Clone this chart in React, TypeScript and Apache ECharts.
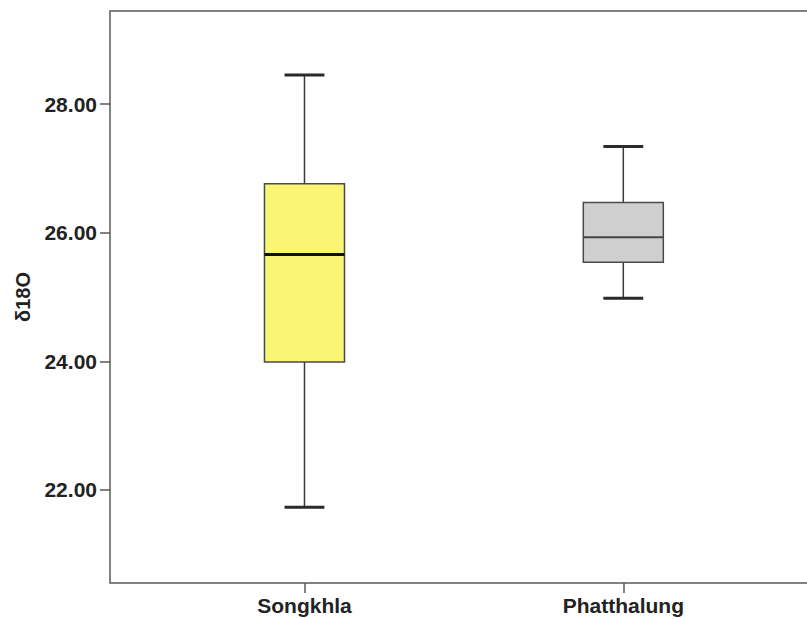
import React, { useEffect, useRef } from "react";
import * as echarts from "echarts";

const categories = ["Songkhla", "Phatthalung"];
const positions = [1, 2];
const lowWhisker = [21.73, 24.98];
const q1 = [23.99, 25.54];
const median = [25.66, 25.93];
const q3 = [26.76, 26.47];
const highWhisker = [28.45, 27.34];
const yTicks = [22, 24, 26, 28];
const yName = "δ18O";

const boxFills = ["#FAF574", "#CFCFCF"];
const medianStyles = [
  { stroke: "#111", lineWidth: 3 },
  { stroke: "#444", lineWidth: 2 },
];

const FONT = "'Liberation Sans', Arial, sans-serif";

export default function App() {
  const ref = useRef<HTMLDivElement>(null);
  useEffect(() => {
    if (!ref.current) return;
    const chart = echarts.init(ref.current, null, { renderer: "svg" });
    const data = positions.map((p, i) => [
      p,
      lowWhisker[i],
      q1[i],
      median[i],
      q3[i],
      highWhisker[i],
    ]);
    chart.setOption({
      animation: false,
      backgroundColor: "#ffffff",
      grid: {
        left: 110,
        top: 11,
        right: -6,
        bottom: 36,
        containLabel: false,
        outerBoundsMode: "none",
        show: true,
        borderColor: "#5a5a5a",
        borderWidth: 1.5,
        backgroundColor: "transparent",
      },
      xAxis: {
        type: "value",
        min: 0.39,
        max: 2.595,
        splitLine: { show: false },
        axisLine: { show: false },
        axisTick: {
          show: true,
          customValues: positions,
          length: 10,
          lineStyle: { color: "#5a5a5a", width: 1.5 },
        },
        axisLabel: {
          customValues: positions,
          formatter: (v: number) => categories[positions.indexOf(v)] ?? "",
          fontFamily: FONT,
          fontSize: 21,
          fontWeight: "bold",
          color: "#222",
          margin: 12,
        },
      },
      yAxis: {
        type: "value",
        min: 20.554,
        max: 29.446,
        name: yName,
        nameLocation: "middle",
        nameGap: 77,
        nameTextStyle: {
          fontFamily: FONT,
          fontSize: 20,
          fontWeight: "bold",
          color: "#222",
        },
        splitLine: { show: false },
        axisLine: { show: false },
        axisTick: {
          show: true,
          customValues: yTicks,
          length: 10,
          lineStyle: { color: "#5a5a5a", width: 1.5 },
        },
        axisLabel: {
          customValues: yTicks,
          formatter: (v: number) => v.toFixed(2),
          fontFamily: FONT,
          fontSize: 21,
          fontWeight: "bold",
          color: "#222",
          margin: 13,
        },
      },
      series: [
        {
          type: "custom",
          data,
          encode: { x: 0, y: [1, 2, 3, 4, 5] },
          renderItem: (params: any, api: any) => {
            const i = params.dataIndex;
            const x = api.value(0);
            const pLow = api.coord([x, api.value(1)]);
            const pQ1 = api.coord([x, api.value(2)]);
            const pMed = api.coord([x, api.value(3)]);
            const pQ3 = api.coord([x, api.value(4)]);
            const pHigh = api.coord([x, api.value(5)]);
            const cx = pMed[0];
            const hb = api.size([0.251, 0])[0] / 2;
            const hc = api.size([0.125, 0])[0] / 2;
            const whisker = { stroke: "#3a3a3a", lineWidth: 1.5 };
            const cap = { stroke: "#2a2a2a", lineWidth: 3 };
            return {
              type: "group",
              children: [
                {
                  type: "line",
                  shape: { x1: cx, y1: pHigh[1], x2: cx, y2: pQ3[1] },
                  style: whisker,
                },
                {
                  type: "line",
                  shape: { x1: cx, y1: pQ1[1], x2: cx, y2: pLow[1] },
                  style: whisker,
                },
                {
                  type: "line",
                  shape: { x1: cx - hc, y1: pHigh[1], x2: cx + hc, y2: pHigh[1] },
                  style: cap,
                },
                {
                  type: "line",
                  shape: { x1: cx - hc, y1: pLow[1], x2: cx + hc, y2: pLow[1] },
                  style: cap,
                },
                {
                  type: "rect",
                  shape: {
                    x: cx - hb,
                    y: pQ3[1],
                    width: hb * 2,
                    height: pQ1[1] - pQ3[1],
                  },
                  style: { fill: boxFills[i], stroke: "#4a4a4a", lineWidth: 1.5 },
                },
                {
                  type: "line",
                  shape: { x1: cx - hb, y1: pMed[1], x2: cx + hb, y2: pMed[1] },
                  style: medianStyles[i],
                },
              ],
            };
          },
        },
      ],
    });
    return () => chart.dispose();
  }, []);
  return (
    <div
      ref={ref}
      style={{ position: "fixed", left: 0, top: 0, width: 807, height: 619 }}
    />
  );
}
